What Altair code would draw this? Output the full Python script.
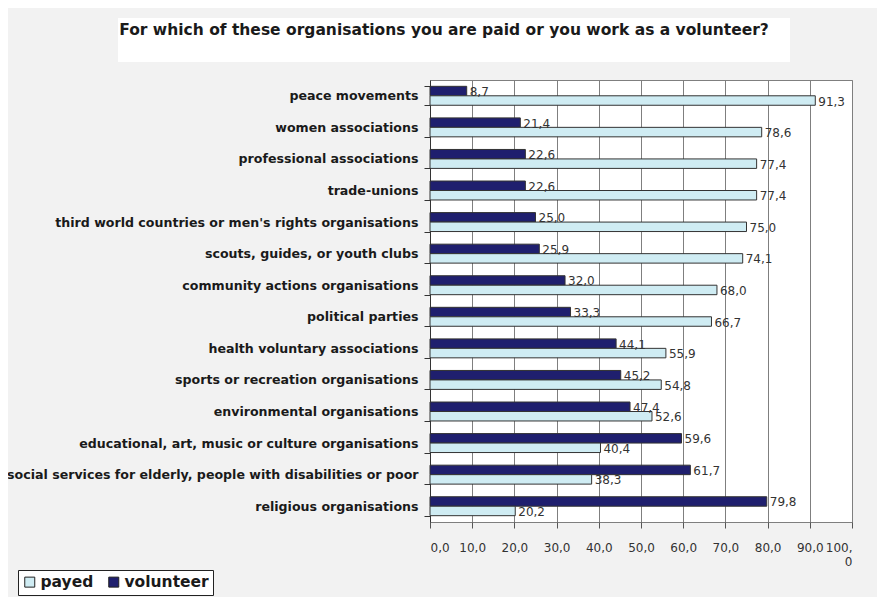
import altair as alt
import pandas as pd

categories = [
    "peace movements",
    "women associations",
    "professional associations",
    "trade-unions",
    "third world countries or men's rights organisations",
    "scouts, guides, or youth clubs",
    "community actions organisations",
    "political parties",
    "health voluntary associations",
    "sports or recreation organisations",
    "environmental organisations",
    "educational, art, music or culture organisations",
    "social services for elderly, people with disabilities or poor",
    "religious organisations ",
]
volunteer = [8.7, 21.4, 22.6, 22.6, 25.0, 25.9, 32.0, 33.3, 44.1, 45.2, 47.4, 59.6, 61.7, 79.8]
payed = [91.3, 78.6, 77.4, 77.4, 75.0, 74.1, 68.0, 66.7, 55.9, 54.8, 52.6, 40.4, 38.3, 20.2]
series = ["payed", "volunteer"]
x_ticks = [0, 10, 20, 30, 40, 50, 60, 70, 80, 90, 100]
title_text = "For which of these organisations you are paid or you work as a volunteer?"

rows = []
for c, v, p in zip(categories, volunteer, payed):
    rows.append({"org": c, "series": "volunteer", "value": v})
    rows.append({"org": c, "series": "payed", "value": p})
df = pd.DataFrame(rows)

FONT = "DejaVu Sans"
NAVY = "#1F1F6E"
LIGHT = "#CFECF3"

y_enc = alt.Y(
    "org:N",
    sort=categories,
    scale=alt.Scale(paddingInner=0.4, paddingOuter=0.2),
    axis=alt.Axis(
        title=None,
        labelFont=FONT,
        labelFontWeight="bold",
        labelFontSize=12.6,
        labelColor="#1A1A1A",
        labelPadding=6,
        labelLimit=500,
        tickBand="extent",
        tickSize=6,
        tickColor="#333333",
        domainColor="#333333",
        grid=False,
    ),
)
yoff = alt.YOffset("series:N", sort=["volunteer", "payed"], scale=alt.Scale(paddingInner=0, paddingOuter=0))
x_enc = alt.X(
    "value:Q",
    scale=alt.Scale(domain=[0, 100], nice=False),
    axis=alt.Axis(
        title=None,
        values=x_ticks,
        grid=True,
        gridColor="#7F7F7F",
        gridWidth=1,
        domain=False,
        tickSize=6,
        tickColor="#555555",
        labelPadding=14,
        labelFont=FONT,
        labelFontSize=12,
        labelColor="#333333",
        labelExpr="datum.value == 100 ? ['100,', '0'] : replace(format(datum.value, '.1f'), '.', ',')",
    ),
)

bars = alt.Chart(df).mark_bar(stroke="#333333", strokeWidth=1).encode(
    x=x_enc,
    y=y_enc,
    yOffset=yoff,
    color=alt.Color(
        "series:N",
        sort=series,
        scale=alt.Scale(domain=series, range=[LIGHT, NAVY]),
        legend=alt.Legend(
            title=None,
            orient="none",
            legendX=-412,
            legendY=490,
            direction="horizontal",
            symbolType="square",
            symbolSize=100,
            symbolStrokeColor="#222222",
            symbolStrokeWidth=1,
            labelFont=FONT,
            labelFontSize=15.5,
            labelFontWeight="bold",
            labelColor="#1A1A1A",
            fillColor="white",
            strokeColor="#222222",
            padding=4,
            columnPadding=12,
            labelOffset=3,
        ),
    ),
)

labels = alt.Chart(df).transform_calculate(
    lab="replace(format(datum.value, '.1f'), '.', ',')"
).mark_text(align="left", baseline="middle", dx=3, dy=1, font=FONT, fontSize=12, color="#333333").encode(
    x=alt.X("value:Q"),
    y=alt.Y("org:N", sort=categories),
    yOffset=alt.YOffset("series:N", sort=["volunteer", "payed"]),
    text="lab:N",
)

deco = alt.Data(values=[{"k": 1}])
title_box = alt.Chart(deco).mark_rect(color="white").encode(
    x=alt.value(-312), x2=alt.value(360), y=alt.value(-62), y2=alt.value(-18)
)
title_mark = alt.Chart(deco).mark_text(
    font=FONT, fontSize=15.5, fontWeight="bold", color="#1A1A1A", align="center", baseline="middle"
).encode(x=alt.value(14), y=alt.value(-50), text=alt.value(title_text))

chart = alt.layer(title_box, title_mark, bars, labels).properties(
    width=422,
    height=442,
    background="#F2F2F2",
    autosize=alt.AutoSizeParams(type="none"),
    padding={"left": 422, "top": 72, "right": 25, "bottom": 75},
).configure_view(stroke="#7F7F7F", fill="white")

chart.save("out.html", embed_options={"renderer": "svg", "actions": False})
